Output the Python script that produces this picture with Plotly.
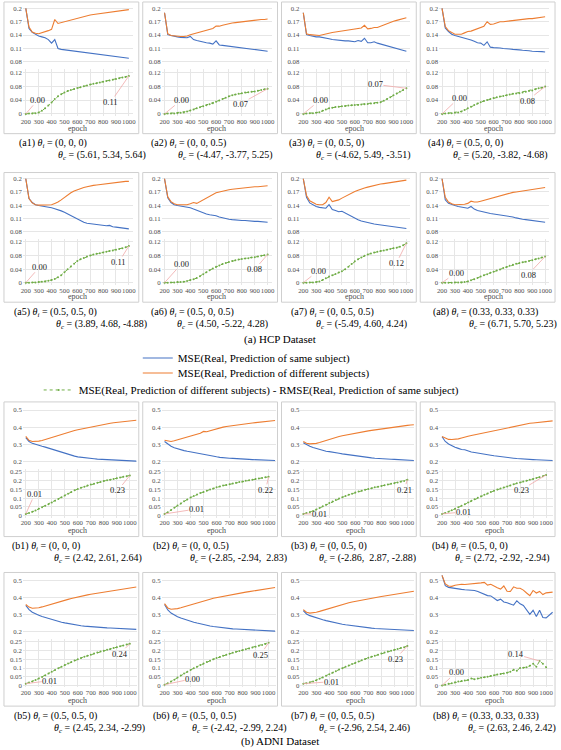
import plotly.graph_objects as go

W, H = 561, 750
FONT = "Liberation Serif"
BLUE, ORANGE, GREEN = "#4472C4", "#ED7D31", "#70AD47"
LEADER = "#F0A8A8"
GRID = "#E6E6E6"
TICKC = "#4D4D4D"

# ---------------- data ----------------
epochs_hcp = list(range(200, 1001, 25))
epochs_adni = list(range(200, 1051, 25))
epochs_adni_gap = list(range(200, 1001, 25))
epoch_ticks = list(range(200, 1001, 100))
epoch_labels = [str(v) for v in epoch_ticks]

hcp_upper_ticks = [0.08, 0.11, 0.14, 0.17, 0.2]
hcp_upper_labels = ["0.08", "0.11", "0.14", "0.17", "0.2"]
hcp_lower_ticks = [0, 0.04, 0.08, 0.12]
hcp_lower_labels = ["0", "0.04", "0.08", "0.12"]
adni_upper_ticks = [0.2, 0.3, 0.4, 0.5]
adni_upper_labels = ["0.2", "0.3", "0.4", "0.5"]
adni_lower_ticks = [0, 0.05, 0.1, 0.15, 0.2, 0.25]
adni_lower_labels = ["0", "0.05", "0.1", "0.15", "0.2", "0.25"]

series_names = [
    "MSE(Real, Prediction of same subject)",
    "MSE(Real, Prediction of different subjects)",
    "MSE(Real, Prediction of different subjects) - RMSE(Real, Prediction of same subject)",
]

panel_ids = ["a1", "a2", "a3", "a4", "a5", "a6", "a7", "a8",
             "b1", "b2", "b3", "b4", "b5", "b6", "b7", "b8"]
theta_i = ["(0, 0, 0)", "(0, 0, 0.5)", "(0, 0.5, 0)", "(0.5, 0, 0)",
           "(0.5, 0.5, 0)", "(0.5, 0, 0.5)", "(0, 0.5, 0.5)", "(0.33, 0.33, 0.33)",
           "(0, 0, 0)", "(0, 0, 0.5)", "(0, 0.5, 0)", "(0.5, 0, 0)",
           "(0.5, 0.5, 0)", "(0.5, 0, 0.5)", "(0, 0.5, 0.5)", "(0.33, 0.33, 0.33)"]
theta_c = ["(5.61, 5.34, 5.64)", "(-4.47, -3.77, 5.25)", "(-4.62, 5.49, -3.51)", "(5.20, -3.82, -4.68)",
           "(3.89, 4.68, -4.88)", "(4.50, -5.22, 4.28)", "(-5.49, 4.60, 4.24)", "(6.71, 5.70, 5.23)",
           "(2.42, 2.61, 2.64)", "(-2.85, -2.94,  2.83)", "(-2.86,  2.87, -2.88)", "(2.72, -2.92, -2.94)",
           "(2.45, 2.34, -2.99)", "(-2.42, -2.99, 2.24)", "(-2.96, 2.54, 2.46)", "(2.63, 2.46, 2.42)"]

# HCP (epochs 200..1000 step 25)
a1_same = [0.200, 0.155, 0.146, 0.141, 0.138, 0.136, 0.134, 0.130, 0.122, 0.130, 0.110, 0.108, 0.107, 0.106, 0.105, 0.104, 0.103,
           0.102, 0.101, 0.100, 0.099, 0.098, 0.098, 0.097, 0.096, 0.095, 0.094, 0.093, 0.092, 0.091, 0.090, 0.089, 0.088]
a1_diff = [0.200, 0.158, 0.147, 0.144, 0.143, 0.145, 0.148, 0.150, 0.153, 0.175, 0.166, 0.168, 0.170, 0.172, 0.174, 0.176, 0.178,
           0.179, 0.181, 0.183, 0.185, 0.186, 0.187, 0.188, 0.189, 0.190, 0.191, 0.192, 0.193, 0.194, 0.195, 0.196, 0.197]
a1_gap = [0.000, 0.001, 0.001, 0.002, 0.004, 0.009, 0.016, 0.024, 0.033, 0.043, 0.051, 0.057, 0.062, 0.066, 0.069, 0.072, 0.075,
          0.077, 0.080, 0.082, 0.085, 0.087, 0.089, 0.091, 0.093, 0.095, 0.097, 0.099, 0.101, 0.103, 0.105, 0.107, 0.110]

a2_same = [0.190, 0.141, 0.139, 0.137, 0.136, 0.135, 0.134, 0.134, 0.137, 0.130, 0.128, 0.126, 0.125, 0.123, 0.122, 0.120, 0.127,
           0.118, 0.117, 0.116, 0.115, 0.114, 0.113, 0.112, 0.111, 0.110, 0.109, 0.108, 0.107, 0.107, 0.106, 0.105, 0.104]
a2_diff = [0.190, 0.143, 0.139, 0.138, 0.137, 0.137, 0.137, 0.138, 0.141, 0.143, 0.145, 0.147, 0.149, 0.151, 0.153, 0.155, 0.160,
           0.160, 0.162, 0.164, 0.166, 0.167, 0.168, 0.169, 0.170, 0.171, 0.172, 0.173, 0.174, 0.174, 0.175, 0.175, 0.176]
a2_gap = [0.000, 0.001, 0.001, 0.001, 0.002, 0.003, 0.004, 0.007, 0.010, 0.013, 0.016, 0.019, 0.022, 0.025, 0.028, 0.031, 0.035,
          0.039, 0.043, 0.047, 0.051, 0.054, 0.056, 0.058, 0.060, 0.062, 0.063, 0.064, 0.065, 0.067, 0.069, 0.071, 0.073]

a3_same = [0.190, 0.141, 0.139, 0.137, 0.136, 0.136, 0.135, 0.134, 0.132, 0.130, 0.129, 0.128, 0.128, 0.127, 0.127, 0.126, 0.125,
           0.128, 0.126, 0.133, 0.123, 0.123, 0.125, 0.122, 0.120, 0.118, 0.116, 0.113, 0.112, 0.110, 0.108, 0.106, 0.104]
a3_diff = [0.190, 0.143, 0.141, 0.140, 0.139, 0.139, 0.141, 0.143, 0.145, 0.146, 0.147, 0.148, 0.149, 0.150, 0.151, 0.152, 0.153,
           0.154, 0.156, 0.162, 0.154, 0.155, 0.157, 0.157, 0.160, 0.163, 0.166, 0.169, 0.171, 0.173, 0.175, 0.177, 0.179]
a3_gap = [0.000, 0.001, 0.002, 0.002, 0.003, 0.005, 0.009, 0.013, 0.016, 0.018, 0.020, 0.021, 0.022, 0.023, 0.024, 0.025, 0.026,
          0.026, 0.027, 0.028, 0.029, 0.030, 0.031, 0.032, 0.034, 0.038, 0.043, 0.048, 0.054, 0.059, 0.064, 0.069, 0.074]

a4_same = [0.200, 0.156, 0.148, 0.142, 0.139, 0.137, 0.136, 0.134, 0.132, 0.129, 0.126, 0.123, 0.122, 0.117, 0.125, 0.113, 0.112,
           0.112, 0.111, 0.110, 0.110, 0.109, 0.108, 0.108, 0.107, 0.106, 0.106, 0.105, 0.104, 0.104, 0.103, 0.103, 0.102]
a4_diff = [0.200, 0.159, 0.150, 0.145, 0.142, 0.142, 0.142, 0.145, 0.148, 0.149, 0.152, 0.155, 0.157, 0.160, 0.170, 0.164, 0.165,
           0.168, 0.170, 0.170, 0.171, 0.172, 0.173, 0.174, 0.174, 0.175, 0.176, 0.177, 0.177, 0.178, 0.179, 0.180, 0.181]
a4_gap = [0.000, 0.001, 0.002, 0.002, 0.003, 0.004, 0.007, 0.011, 0.016, 0.021, 0.026, 0.030, 0.034, 0.037, 0.040, 0.043, 0.046,
          0.048, 0.050, 0.052, 0.054, 0.056, 0.058, 0.059, 0.060, 0.062, 0.064, 0.066, 0.068, 0.071, 0.074, 0.076, 0.079]

a5_same = [0.200, 0.155, 0.146, 0.141, 0.139, 0.138, 0.137, 0.136, 0.134, 0.132, 0.130, 0.127, 0.124, 0.120, 0.117, 0.113, 0.108,
           0.104, 0.101, 0.099, 0.098, 0.097, 0.096, 0.095, 0.094, 0.093, 0.094, 0.091, 0.090, 0.089, 0.088, 0.087, 0.086]
a5_diff = [0.200, 0.155, 0.145, 0.141, 0.140, 0.140, 0.140, 0.140, 0.141, 0.144, 0.147, 0.152, 0.158, 0.164, 0.168, 0.172, 0.175,
           0.178, 0.180, 0.182, 0.184, 0.185, 0.186, 0.187, 0.188, 0.189, 0.190, 0.191, 0.192, 0.193, 0.193, 0.194, 0.194]
a5_gap = [0.000, 0.000, 0.001, 0.001, 0.002, 0.003, 0.004, 0.006, 0.008, 0.011, 0.016, 0.022, 0.031, 0.040, 0.048, 0.056, 0.064,
          0.069, 0.073, 0.077, 0.080, 0.083, 0.085, 0.087, 0.089, 0.091, 0.093, 0.095, 0.097, 0.099, 0.101, 0.104, 0.108]

a6_same = [0.200, 0.157, 0.146, 0.141, 0.139, 0.138, 0.137, 0.136, 0.134, 0.131, 0.128, 0.126, 0.123, 0.120, 0.118, 0.117, 0.116,
           0.113, 0.111, 0.110, 0.108, 0.107, 0.106, 0.106, 0.105, 0.105, 0.104, 0.104, 0.103, 0.103, 0.102, 0.101, 0.101]
a6_diff = [0.200, 0.159, 0.148, 0.143, 0.141, 0.141, 0.141, 0.141, 0.143, 0.146, 0.144, 0.148, 0.153, 0.157, 0.161, 0.165, 0.168,
           0.170, 0.172, 0.173, 0.175, 0.176, 0.177, 0.178, 0.179, 0.180, 0.180, 0.181, 0.182, 0.182, 0.183, 0.183, 0.184]
a6_gap = [0.000, 0.000, 0.001, 0.001, 0.002, 0.002, 0.003, 0.005, 0.008, 0.010, 0.014, 0.019, 0.025, 0.031, 0.037, 0.042, 0.047,
          0.051, 0.055, 0.058, 0.061, 0.064, 0.066, 0.068, 0.070, 0.071, 0.072, 0.074, 0.075, 0.077, 0.079, 0.081, 0.083]

a7_same = [0.200, 0.158, 0.145, 0.140, 0.137, 0.135, 0.134, 0.133, 0.141, 0.130, 0.128, 0.125, 0.126, 0.122, 0.118, 0.114, 0.110,
           0.107, 0.104, 0.102, 0.100, 0.099, 0.097, 0.096, 0.095, 0.094, 0.093, 0.092, 0.091, 0.090, 0.089, 0.088, 0.087]
a7_diff = [0.200, 0.162, 0.150, 0.145, 0.142, 0.141, 0.141, 0.146, 0.158, 0.148, 0.150, 0.152, 0.156, 0.160, 0.164, 0.168, 0.171,
           0.174, 0.177, 0.179, 0.181, 0.183, 0.185, 0.187, 0.188, 0.189, 0.190, 0.192, 0.193, 0.194, 0.195, 0.196, 0.197]
a7_gap = [0.000, 0.000, 0.001, 0.001, 0.002, 0.004, 0.008, 0.013, 0.018, 0.022, 0.026, 0.030, 0.034, 0.040, 0.047, 0.055, 0.063,
          0.069, 0.074, 0.079, 0.083, 0.086, 0.089, 0.091, 0.093, 0.095, 0.097, 0.099, 0.101, 0.103, 0.106, 0.110, 0.116]

a8_same = [0.200, 0.152, 0.144, 0.141, 0.139, 0.137, 0.136, 0.134, 0.133, 0.137, 0.131, 0.128, 0.126, 0.124, 0.123, 0.121, 0.120,
           0.119, 0.118, 0.116, 0.115, 0.114, 0.113, 0.111, 0.109, 0.108, 0.107, 0.106, 0.105, 0.104, 0.103, 0.102, 0.101]
a8_diff = [0.200, 0.158, 0.147, 0.143, 0.141, 0.141, 0.141, 0.142, 0.144, 0.149, 0.147, 0.147, 0.149, 0.151, 0.153, 0.155, 0.157,
           0.159, 0.161, 0.164, 0.166, 0.168, 0.169, 0.170, 0.171, 0.172, 0.173, 0.175, 0.176, 0.177, 0.178, 0.179, 0.180]
a8_gap = [0.000, 0.000, 0.000, 0.000, 0.001, 0.001, 0.001, 0.002, 0.004, 0.007, 0.010, 0.014, 0.018, 0.022, 0.025, 0.029, 0.032,
          0.036, 0.039, 0.043, 0.046, 0.050, 0.053, 0.056, 0.058, 0.060, 0.062, 0.064, 0.066, 0.069, 0.071, 0.074, 0.077]

# ADNI (MSE lines: epochs 200..1050 step 25; gap: 200..1000 step 25)
b1_same = [0.340, 0.318, 0.307, 0.300, 0.295, 0.290, 0.285, 0.279, 0.273, 0.267, 0.262, 0.255, 0.248, 0.243, 0.238, 0.233, 0.229, 0.226,
           0.223, 0.221, 0.219, 0.218, 0.216, 0.215, 0.214, 0.213, 0.212, 0.211, 0.210, 0.209, 0.208, 0.207, 0.206, 0.205, 0.204]
b1_diff = [0.347, 0.325, 0.318, 0.318, 0.320, 0.324, 0.330, 0.336, 0.342, 0.349, 0.355, 0.360, 0.366, 0.371, 0.376, 0.381, 0.386, 0.390,
           0.395, 0.399, 0.403, 0.407, 0.410, 0.413, 0.417, 0.420, 0.423, 0.426, 0.428, 0.431, 0.433, 0.435, 0.437, 0.439, 0.441]
b1_gap = [0.010, 0.015, 0.022, 0.030, 0.039, 0.048, 0.057, 0.066, 0.076, 0.086, 0.096, 0.106, 0.116, 0.126, 0.136, 0.145, 0.153,
          0.160, 0.166, 0.172, 0.178, 0.183, 0.188, 0.193, 0.198, 0.202, 0.206, 0.210, 0.214, 0.218, 0.222, 0.226, 0.230]

b2_same = [0.318, 0.302, 0.290, 0.282, 0.275, 0.270, 0.265, 0.261, 0.257, 0.253, 0.249, 0.245, 0.242, 0.239, 0.236, 0.233, 0.229, 0.226,
           0.223, 0.222, 0.221, 0.220, 0.218, 0.217, 0.216, 0.215, 0.214, 0.213, 0.212, 0.211, 0.210, 0.210, 0.209, 0.208, 0.208]
b2_diff = [0.325, 0.320, 0.318, 0.322, 0.327, 0.333, 0.338, 0.343, 0.348, 0.353, 0.358, 0.366, 0.376, 0.374, 0.380, 0.386, 0.392, 0.397,
           0.401, 0.405, 0.408, 0.411, 0.414, 0.417, 0.419, 0.421, 0.423, 0.425, 0.427, 0.429, 0.431, 0.433, 0.435, 0.437, 0.439]
b2_gap = [0.010, 0.020, 0.032, 0.045, 0.058, 0.070, 0.082, 0.093, 0.104, 0.113, 0.121, 0.129, 0.136, 0.143, 0.150, 0.156, 0.162,
          0.167, 0.172, 0.176, 0.180, 0.184, 0.188, 0.192, 0.196, 0.199, 0.203, 0.206, 0.210, 0.213, 0.216, 0.219, 0.222]

b3_same = [0.310, 0.298, 0.290, 0.283, 0.277, 0.271, 0.265, 0.261, 0.259, 0.257, 0.254, 0.250, 0.246, 0.243, 0.240, 0.237, 0.234, 0.231,
           0.229, 0.227, 0.225, 0.223, 0.221, 0.219, 0.218, 0.217, 0.216, 0.215, 0.214, 0.213, 0.212, 0.211, 0.210, 0.209, 0.208]
b3_diff = [0.318, 0.308, 0.304, 0.304, 0.307, 0.312, 0.318, 0.325, 0.333, 0.338, 0.343, 0.347, 0.351, 0.355, 0.359, 0.363, 0.367, 0.370,
           0.373, 0.376, 0.379, 0.382, 0.385, 0.388, 0.391, 0.394, 0.397, 0.400, 0.403, 0.405, 0.407, 0.409, 0.411, 0.413, 0.415]
b3_gap = [0.010, 0.015, 0.020, 0.027, 0.035, 0.044, 0.054, 0.063, 0.072, 0.081, 0.090, 0.098, 0.106, 0.113, 0.120, 0.126, 0.132,
          0.138, 0.143, 0.148, 0.153, 0.157, 0.162, 0.166, 0.170, 0.174, 0.178, 0.182, 0.186, 0.190, 0.194, 0.198, 0.206]

b4_same = [0.345, 0.318, 0.303, 0.293, 0.285, 0.278, 0.271, 0.270, 0.262, 0.257, 0.254, 0.250, 0.247, 0.244, 0.241, 0.238, 0.235, 0.232,
           0.229, 0.227, 0.225, 0.223, 0.221, 0.219, 0.217, 0.216, 0.215, 0.214, 0.213, 0.212, 0.211, 0.210, 0.209, 0.208, 0.208]
b4_diff = [0.347, 0.336, 0.330, 0.329, 0.330, 0.333, 0.338, 0.345, 0.348, 0.352, 0.356, 0.359, 0.362, 0.366, 0.371, 0.376, 0.381, 0.386,
           0.390, 0.394, 0.398, 0.402, 0.406, 0.410, 0.414, 0.417, 0.420, 0.423, 0.425, 0.427, 0.429, 0.431, 0.433, 0.435, 0.437]
b4_gap = [0.010, 0.016, 0.023, 0.031, 0.039, 0.048, 0.057, 0.066, 0.076, 0.085, 0.094, 0.103, 0.111, 0.119, 0.127, 0.135, 0.142,
          0.149, 0.155, 0.161, 0.167, 0.173, 0.179, 0.185, 0.190, 0.195, 0.200, 0.205, 0.210, 0.215, 0.220, 0.226, 0.233]

b5_same = [0.355, 0.330, 0.315, 0.305, 0.297, 0.290, 0.284, 0.278, 0.272, 0.267, 0.262, 0.257, 0.253, 0.249, 0.245, 0.242, 0.239, 0.236,
           0.234, 0.232, 0.230, 0.228, 0.227, 0.226, 0.225, 0.224, 0.223, 0.222, 0.221, 0.220, 0.219, 0.218, 0.217, 0.216, 0.215]
b5_diff = [0.360, 0.345, 0.338, 0.338, 0.341, 0.346, 0.352, 0.358, 0.364, 0.370, 0.375, 0.380, 0.385, 0.390, 0.395, 0.400, 0.404, 0.408,
           0.412, 0.416, 0.420, 0.423, 0.426, 0.429, 0.432, 0.435, 0.438, 0.441, 0.444, 0.447, 0.450, 0.453, 0.456, 0.459, 0.462]
b5_gap = [0.010, 0.016, 0.023, 0.031, 0.040, 0.049, 0.058, 0.068, 0.078, 0.088, 0.098, 0.108, 0.117, 0.126, 0.135, 0.143, 0.151,
          0.158, 0.165, 0.171, 0.177, 0.183, 0.189, 0.195, 0.200, 0.205, 0.210, 0.215, 0.220, 0.225, 0.230, 0.235, 0.240]

b6_same = [0.360, 0.328, 0.310, 0.298, 0.289, 0.281, 0.274, 0.268, 0.262, 0.257, 0.252, 0.247, 0.243, 0.239, 0.235, 0.232, 0.229, 0.226,
           0.224, 0.222, 0.220, 0.218, 0.217, 0.216, 0.215, 0.214, 0.213, 0.212, 0.211, 0.210, 0.209, 0.208, 0.207, 0.206, 0.205]
b6_diff = [0.365, 0.340, 0.332, 0.332, 0.336, 0.341, 0.347, 0.353, 0.359, 0.365, 0.371, 0.376, 0.381, 0.386, 0.391, 0.396, 0.400, 0.404,
           0.408, 0.412, 0.416, 0.420, 0.423, 0.426, 0.429, 0.432, 0.435, 0.438, 0.441, 0.444, 0.447, 0.450, 0.453, 0.456, 0.459]
b6_gap = [0.004, 0.012, 0.022, 0.033, 0.045, 0.057, 0.068, 0.079, 0.089, 0.099, 0.108, 0.117, 0.126, 0.134, 0.142, 0.150, 0.157,
          0.164, 0.170, 0.176, 0.182, 0.188, 0.193, 0.198, 0.203, 0.208, 0.213, 0.218, 0.223, 0.228, 0.233, 0.238, 0.246]

b7_same = [0.325, 0.305, 0.295, 0.288, 0.282, 0.276, 0.271, 0.266, 0.261, 0.257, 0.253, 0.249, 0.245, 0.242, 0.239, 0.236, 0.233, 0.230,
           0.228, 0.226, 0.224, 0.222, 0.220, 0.219, 0.218, 0.217, 0.216, 0.215, 0.214, 0.213, 0.212, 0.211, 0.210, 0.209, 0.208]
b7_diff = [0.330, 0.315, 0.310, 0.311, 0.315, 0.320, 0.326, 0.332, 0.338, 0.344, 0.350, 0.355, 0.360, 0.365, 0.370, 0.375, 0.379, 0.383,
           0.387, 0.391, 0.395, 0.398, 0.401, 0.404, 0.407, 0.410, 0.413, 0.416, 0.419, 0.422, 0.425, 0.428, 0.431, 0.434, 0.437]
b7_gap = [0.010, 0.013, 0.017, 0.023, 0.030, 0.038, 0.046, 0.055, 0.064, 0.073, 0.082, 0.091, 0.099, 0.107, 0.115, 0.123, 0.131,
          0.138, 0.145, 0.152, 0.159, 0.165, 0.171, 0.177, 0.183, 0.189, 0.195, 0.200, 0.205, 0.210, 0.215, 0.220, 0.227]

b8_same = [0.530, 0.470, 0.460, 0.456, 0.454, 0.450, 0.448, 0.446, 0.445, 0.443, 0.442, 0.436, 0.429, 0.420, 0.412, 0.410, 0.398, 0.383,
           0.391, 0.375, 0.370, 0.364, 0.356, 0.382, 0.364, 0.354, 0.330, 0.302, 0.326, 0.290, 0.327, 0.284, 0.282, 0.300, 0.315]
b8_diff = [0.530, 0.480, 0.468, 0.466, 0.472, 0.476, 0.478, 0.477, 0.478, 0.480, 0.482, 0.484, 0.486, 0.489, 0.473, 0.478, 0.466, 0.458,
           0.450, 0.468, 0.437, 0.436, 0.463, 0.455, 0.455, 0.444, 0.427, 0.412, 0.442, 0.427, 0.436, 0.418, 0.428, 0.432, 0.432]
b8_gap = [0.000, 0.004, 0.009, 0.013, 0.018, 0.022, 0.025, 0.028, 0.031, 0.040, 0.035, 0.039, 0.044, 0.047, 0.050, 0.054, 0.058,
          0.062, 0.066, 0.069, 0.073, 0.078, 0.090, 0.085, 0.100, 0.102, 0.105, 0.113, 0.124, 0.108, 0.140, 0.125, 0.105]

same_series = [a1_same, a2_same, a3_same, a4_same, a5_same, a6_same, a7_same, a8_same,
               b1_same, b2_same, b3_same, b4_same, b5_same, b6_same, b7_same, b8_same]
diff_series = [a1_diff, a2_diff, a3_diff, a4_diff, a5_diff, a6_diff, a7_diff, a8_diff,
               b1_diff, b2_diff, b3_diff, b4_diff, b5_diff, b6_diff, b7_diff, b8_diff]
gap_series = [a1_gap, a2_gap, a3_gap, a4_gap, a5_gap, a6_gap, a7_gap, a8_gap,
              b1_gap, b2_gap, b3_gap, b4_gap, b5_gap, b6_gap, b7_gap, b8_gap]
# index of the gap point that carries the second data label
gap_label_index = [32] * 15 + [30]

for i in range(16):
    nl = len(epochs_hcp) if i < 8 else len(epochs_adni)
    assert len(same_series[i]) == nl, (i, "same", len(same_series[i]))
    assert len(diff_series[i]) == nl, (i, "diff", len(diff_series[i]))
    assert len(gap_series[i]) == 33, (i, "gap", len(gap_series[i]))

# ---------------- layout (pixel geometry) ----------------
row_top = [1, 172, 402, 573]
row_h = [132, 130, 135, 134]
col_left = [2, 142, 282, 422]
BOX_W = 136
caption_dx = [(13, 52), (6, 34), (6, 33), (6, 31), (8, 50), (6, 33), (8, 33), (11, 47),
              (6, 48), (8, 46), (8, 36), (10, 33), (8, 48), (8, 48), (8, 36), (11, 46)]
label_off = [((12, -14), (-18, 26)), ((17, -14), (-27, 15)), ((17, -14), (-31, -4)), ((17, -16), (-18, 14)),
             ((14, -16), (-10, 16)), ((17, -19), (-13, 15)), ((15, -12), (-10, 20)), ((14, -10), (-17, 18)),
             ((9, -20), (-12, 15)), ((32, -5), (-3, 13)), ((16, 0), (-3, 10)), ((21, -2), (-25, 15)),
             ((24, -3), (-10, 10)), ((28, -6), (-8, 12)), ((28, -2), (-12, 13)), ((14, -13), (-24, -7))]


def px(x):
    return x / W


def py(y):
    return 1 - y / H


def lin_range(hi_v, hi_p, lo_v, lo_p, d_top, d_bot):
    k = (hi_v - lo_v) / (lo_p - hi_p)
    return [lo_v - (d_bot - lo_p) * k, hi_v + (hi_p - d_top) * k]


fig = go.Figure()
layout = dict(width=W, height=H, margin=dict(l=0, r=0, t=0, b=0), autosize=False,
              paper_bgcolor="white", plot_bgcolor="white", showlegend=True)
annotations = []
shapes = []

tick_font = dict(family=FONT, size=6.8, color=TICKC)
CAP = 10

for i in range(16):
    adni = i >= 8
    r, c = i // 4, i % 4
    top, hh, L = row_top[r], row_h[r], col_left[c]
    bottom = top + hh

    # panel frame
    shapes.append(dict(type="rect", xref="paper", yref="paper",
                       x0=px(L), x1=px(L + BOX_W), y0=py(bottom), y1=py(top),
                       line=dict(color="#CFCFCF", width=1), fillcolor="rgba(0,0,0,0)", layer="below"))

    # x geometry: 200 sits at L+22, 1000 at x1000
    x_dom = [L + 19, L + (134 if adni else 130)]
    x1000 = L + (127 if adni else 126)
    k = 800 / (x1000 - (L + 22))
    xr = [200 - (L + 22 - x_dom[0]) * k, 1000 + (x_dom[1] - x1000) * k]

    if adni:
        up_hi, up_lo = (0.5, 0.06 * hh), (0.2, 0.445 * hh)
        lo_hi, lo_lo = (0.25, 0.52 * hh), (0.0, 0.845 * hh)
        ut, ul, lt, ll = adni_upper_ticks, adni_upper_labels, adni_lower_ticks, adni_lower_labels
        xs_line, xs_gap = epochs_adni, epochs_adni_gap
    else:
        up_hi, up_lo = (0.2, 0.048 * hh), (0.08, 0.455 * hh)
        lo_hi, lo_lo = (0.12, 0.535 * hh), (0.0, 0.85 * hh)
        ut, ul, lt, ll = hcp_upper_ticks, hcp_upper_labels, hcp_lower_ticks, hcp_lower_labels
        xs_line, xs_gap = epochs_hcp, epochs_hcp

    u_dom = [top + 2, top + up_lo[1] + 3]
    l_dom = [top + lo_hi[1] - 3, top + lo_lo[1] + 2]
    u_rng = lin_range(up_hi[0], top + up_hi[1], up_lo[0], top + up_lo[1], u_dom[0], u_dom[1])
    l_rng = lin_range(lo_hi[0], top + lo_hi[1], lo_lo[0], top + lo_lo[1], l_dom[0], l_dom[1])

    nu, nl = 2 * i + 1, 2 * i + 2
    xu, yu = f"x{nu}", f"y{nu}"
    xl, yl = f"x{nl}", f"y{nl}"

    common_x = dict(range=xr, domain=[px(x_dom[0]), px(x_dom[1])], fixedrange=True,
                    zeroline=False, showline=False, ticks="", tickangle=0,
                    tickmode="array", tickvals=epoch_ticks, ticktext=epoch_labels,
                    gridcolor=GRID, gridwidth=0.8)
    layout[f"xaxis{nu}"] = dict(common_x, anchor=yu, showticklabels=False, showgrid=False)
    layout[f"xaxis{nl}"] = dict(common_x, anchor=yl, showticklabels=True, showgrid=True,
                                tickfont=tick_font)
    common_y = dict(fixedrange=True, zeroline=False, showline=False, ticks="",
                    tickmode="array", showgrid=True, gridcolor=GRID, gridwidth=0.8,
                    tickfont=tick_font)
    layout[f"yaxis{nu}"] = dict(common_y, anchor=xu, range=u_rng,
                                domain=[py(u_dom[1]), py(u_dom[0])], tickvals=ut, ticktext=ul)
    layout[f"yaxis{nl}"] = dict(common_y, anchor=xl, range=l_rng,
                                domain=[py(l_dom[1]), py(l_dom[0])], tickvals=lt, ticktext=ll)

    first = i == 0
    fig.add_trace(go.Scatter(x=xs_line, y=same_series[i], xaxis=xu, yaxis=yu, mode="lines",
                             line=dict(color=BLUE, width=1.1), name=series_names[0],
                             showlegend=first, legend="legend", hoverinfo="skip"))
    fig.add_trace(go.Scatter(x=xs_line, y=diff_series[i], xaxis=xu, yaxis=yu, mode="lines",
                             line=dict(color=ORANGE, width=1.1), name=series_names[1],
                             showlegend=first, legend="legend2", hoverinfo="skip"))
    fig.add_trace(go.Scatter(x=xs_gap, y=gap_series[i], xaxis=xl, yaxis=yl, mode="lines+markers",
                             line=dict(color=GREEN, width=1.0, dash="dot"),
                             marker=dict(color=GREEN, size=2.0), name=series_names[2],
                             showlegend=first, legend="legend3", hoverinfo="skip"))

    # data labels with leader lines
    (ax1, ay1), (ax2, ay2) = label_off[i]
    j2 = gap_label_index[i]
    for j, (ax, ay) in ((0, (ax1, ay1)), (j2, (ax2, ay2))):
        v = gap_series[i][j]
        annotations.append(dict(x=xs_gap[j], y=v, xref=xl, yref=yl, text=f"{v:.2f}",
                                showarrow=True, arrowhead=0, arrowwidth=0.8, arrowcolor=LEADER,
                                ax=ax, ay=ay, standoff=0, borderpad=0,
                                font=dict(family=FONT, size=8.5, color="#222222")))

    # axis title
    annotations.append(dict(x=px((L + 22 + x1000) / 2), y=py(top + 0.958 * hh), xref="paper", yref="paper",
                            text="epoch", showarrow=False, xanchor="center", yanchor="middle",
                            font=dict(family=FONT, size=8, color=TICKC)))

    # captions
    d1, d2 = caption_dx[i]
    annotations.append(dict(x=px(L + d1), y=py(bottom + 10), xref="paper", yref="paper",
                            text=f"({panel_ids[i]}) <i>θ</i><sub><i>i</i></sub> = {theta_i[i]}",
                            showarrow=False, xanchor="left", yanchor="middle",
                            font=dict(family=FONT, size=CAP, color="black")))
    annotations.append(dict(x=px(L + d2), y=py(bottom + 22), xref="paper", yref="paper",
                            text=f"<i>θ</i><sub><i>c</i></sub> = {theta_c[i]}",
                            showarrow=False, xanchor="left", yanchor="middle",
                            font=dict(family=FONT, size=CAP, color="black")))

annotations.append(dict(x=px(280), y=py(339), xref="paper", yref="paper", text="(a) HCP Dataset",
                        showarrow=False, xanchor="center", yanchor="middle",
                        font=dict(family=FONT, size=11, color="black")))
annotations.append(dict(x=px(280), y=py(742), xref="paper", yref="paper", text="(b) ADNI Dataset",
                        showarrow=False, xanchor="center", yanchor="middle",
                        font=dict(family=FONT, size=11, color="black")))

leg_common = dict(xanchor="left", yanchor="middle", bgcolor="rgba(0,0,0,0)", borderwidth=0,
                  itemwidth=30, font=dict(family=FONT, size=11, color="black"),
                  itemclick=False, itemdoubleclick=False)
layout["legend"] = dict(leg_common, x=px(137), y=py(358))
layout["legend2"] = dict(leg_common, x=px(137), y=py(373))
layout["legend3"] = dict(leg_common, x=px(37), y=py(390))

layout["annotations"] = annotations
layout["shapes"] = shapes
fig.update_layout(**layout)
fig.write_html("out.html", config={"displayModeBar": False},
               post_script="document.body.style.margin='0';document.body.style.overflow='hidden';")
